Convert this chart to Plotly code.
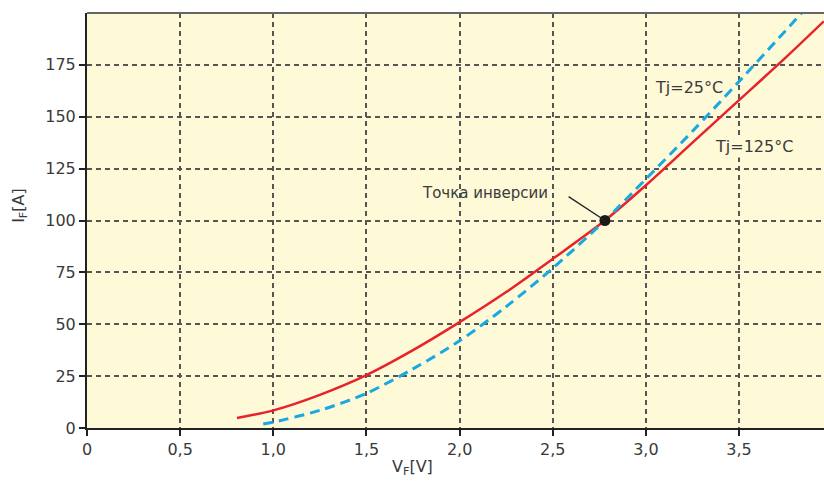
import plotly.graph_objects as go

# Data
v_125 = [0.805, 1.0, 1.25, 1.5, 1.75, 2.0, 2.25, 2.5, 2.78, 3.0, 3.25, 3.5, 3.75, 3.955]
i_125 = [4.8, 8.5, 16.0, 25.5, 37.5, 51.0, 65.5, 81.5, 100.0, 117.0, 137.5, 158.0, 178.5, 196.0]

v_25 = [0.946, 1.0, 1.25, 1.5, 1.75, 2.0, 2.25, 2.5, 2.78, 3.0, 3.25, 3.5, 3.836]
i_25 = [1.9, 2.8, 8.5, 16.7, 28.5, 42.0, 58.5, 77.0, 100.0, 120.0, 143.0, 167.0, 200.0]

inv_v = [2.78]
inv_i = [100.0]

x_ticks = [0, 0.5, 1.0, 1.5, 2.0, 2.5, 3.0, 3.5]
x_ticktext = ["0", "0,5", "1,0", "1,5", "2,0", "2,5", "3,0", "3,5"]
y_ticks = [0, 25, 50, 75, 100, 125, 150, 175]

FONT = "DejaVu Sans"
TXT = "#3a3a3a"
BG = "#FEF9D6"
GRID = "#555555"

fig = go.Figure()
fig.add_trace(go.Scatter(x=v_125, y=i_125, mode="lines",
                         line=dict(color="#E8222B", width=2.5, shape="spline", smoothing=0.8),
                         showlegend=False, hoverinfo="skip"))
fig.add_trace(go.Scatter(x=v_25, y=i_25, mode="lines",
                         line=dict(color="#18A8E2", width=3, dash="10px,6px", shape="spline", smoothing=0.8),
                         showlegend=False, hoverinfo="skip"))
fig.add_trace(go.Scatter(x=inv_v, y=inv_i, mode="markers",
                         marker=dict(color="#1a1a1a", size=11),
                         showlegend=False, hoverinfo="skip"))

# leader line to inversion point
fig.add_shape(type="line", xref="x", yref="y",
              x0=inv_v[0] - 0.195, y0=inv_i[0] + 11.5, x1=inv_v[0], y1=inv_i[0],
              line=dict(color="#222222", width=1.3))
# top border
fig.add_shape(type="line", xref="paper", yref="paper", x0=0, x1=1, y0=1, y1=1,
              line=dict(color="#666666", width=2))

fig.add_annotation(x=2.487, y=113.4, xref="x", yref="y",
                   text="Точка инверсии", showarrow=False, xanchor="right", yanchor="middle",
                   font=dict(family=FONT, size=15, color=TXT))
fig.add_annotation(x=3.04, y=164, xref="x", yref="y", text="Tj=25°C", showarrow=False,
                   xanchor="left", yanchor="middle", font=dict(family=FONT, size=16, color=TXT))
fig.add_annotation(x=3.36, y=135.5, xref="x", yref="y", text="Tj=125°C", showarrow=False,
                   xanchor="left", yanchor="middle", bgcolor=BG, borderpad=1,
                   font=dict(family=FONT, size=16, color=TXT))

fig.add_annotation(x=1.745, y=-0.094, xref="x", yref="paper", text="V<sub>F</sub>[V]",
                   showarrow=False, xanchor="center", yanchor="middle",
                   font=dict(family=FONT, size=16, color=TXT))
fig.add_annotation(x=-0.091, y=107.5, xref="paper", yref="y", text="I<sub>F</sub>[A]",
                   showarrow=False, textangle=-90, xanchor="center", yanchor="middle",
                   font=dict(family=FONT, size=16, color=TXT))

fig.update_layout(
    width=824, height=481,
    margin=dict(l=87, r=0, t=13, b=53),
    paper_bgcolor="white", plot_bgcolor=BG,
    font=dict(family=FONT, size=16, color=TXT),
)
fig.update_xaxes(range=[0, 3.956], tickvals=x_ticks, ticktext=x_ticktext,
                 showgrid=True, gridcolor=GRID, griddash="5px,4px", gridwidth=1.5,
                 showline=True, linecolor="#222222", linewidth=2,
                 ticks="outside", ticklen=6, tickcolor="#222222", tickwidth=1.5,
                 zeroline=False, tickfont=dict(family=FONT, size=16, color=TXT))
fig.update_yaxes(range=[0, 200], tickvals=y_ticks,
                 showgrid=True, gridcolor=GRID, griddash="5px,4px", gridwidth=1.5,
                 showline=True, linecolor="#222222", linewidth=2,
                 ticks="outside", ticklen=6, tickcolor="#222222", tickwidth=1.5,
                 zeroline=False, tickfont=dict(family=FONT, size=16, color=TXT))

fig.write_html("out.html", config={"displayModeBar": False},
               post_script="document.body.style.margin='0';document.body.style.overflow='hidden';")
